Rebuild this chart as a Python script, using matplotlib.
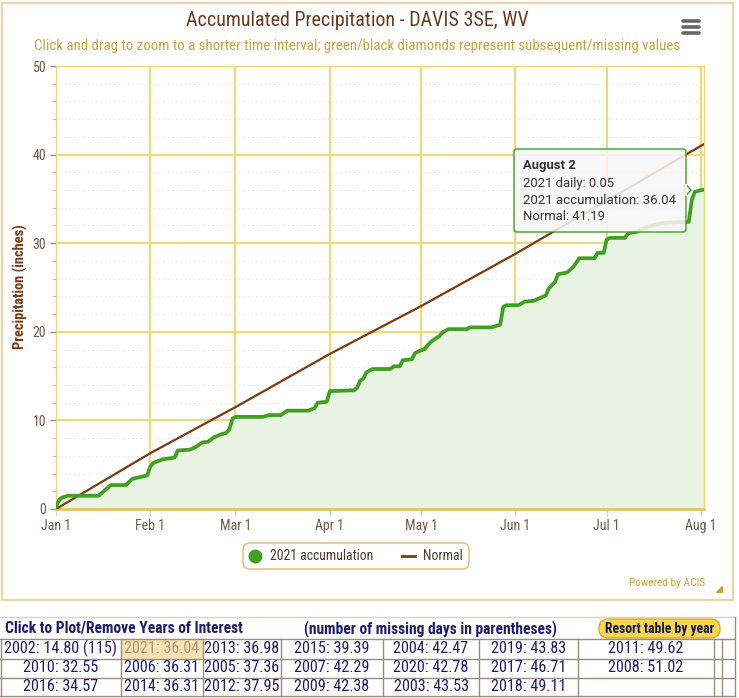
import numpy as np
import pandas as pd
import matplotlib
matplotlib.use('Agg')
import matplotlib.pyplot as plt
from matplotlib import font_manager
from matplotlib.ticker import MultipleLocator, FixedLocator
from matplotlib.patches import FancyBboxPatch, Rectangle, Polygon
from matplotlib.lines import Line2D

W, H = 739, 698

# --- data ---------------------------------------------------------------
year_start = pd.Timestamp('2021-01-01')
acc_days = [0, 1, 2, 4, 14, 16, 18, 23, 25, 29, 30, 31, 32, 35, 39, 40, 44, 46, 48, 50,
            52, 54, 56, 57, 58, 59, 68, 70, 74, 76, 83, 85, 86, 89, 90, 98, 99, 100,
            101, 102, 104, 110, 111, 113, 114, 117, 118, 120, 121, 123, 125, 126, 127,
            129, 135, 136, 143, 144, 146, 147, 148, 152, 154, 157, 159, 161, 162, 164,
            165, 168, 170, 172, 177, 178, 180, 181, 182, 187, 188, 191, 194, 196, 200,
            208, 209, 210, 212, 213]
acc_values = [0.3, 1.0, 1.3, 1.5, 1.5, 2.1, 2.7, 2.7, 3.4, 3.7, 3.8, 4.8, 5.2, 5.6, 5.8, 6.6, 6.7, 7.0, 7.5, 7.6,
              8.1, 8.4, 8.6, 9.0, 10.2, 10.4, 10.4, 10.6, 10.6, 11.1, 11.1, 11.4, 12.0, 12.1, 13.3, 13.4, 13.7, 14.5,
              14.7, 15.4, 15.8, 15.8, 16.1, 16.1, 16.8, 16.9, 17.6, 17.9, 18.0, 18.8, 19.3, 19.5, 19.9,
              20.3, 20.3, 20.5, 20.5, 20.6, 20.8, 22.8, 23.0, 23.0, 23.4, 23.5, 23.8, 24.1, 24.9, 25.6,
              26.5, 26.7, 27.3, 28.3, 28.3, 28.9, 28.9, 30.4, 30.6, 30.6, 31.1, 31.3, 31.8, 32.0, 32.3,
              32.4, 34.9, 35.8, 35.99, 36.04]
normal_days = [0, 31, 59, 90, 120, 151, 181, 212, 213]
normal_values = [0.0, 6.3, 11.5, 17.5, 22.9, 28.8, 34.8, 40.99, 41.19]

month_ticks = ['2021-01-01', '2021-02-01', '2021-03-01', '2021-04-01',
               '2021-05-01', '2021-06-01', '2021-07-01', '2021-08-01']
month_labels = ['Jan 1', 'Feb 1', 'Mar 1', 'Apr 1', 'May 1', 'Jun 1', 'Jul 1', 'Aug 1']
y_ticks = [0, 10, 20, 30, 40, 50]

tooltip_lines = ['2021 daily: 0.05', '2021 accumulation: 36.04', 'Normal: 41.19']

table_rows = [
    ['2002: 14.80 (115)', '2021: 36.04', '2013: 36.98', '2015: 39.39', '2004: 42.47', '2019: 43.83', '2011: 49.62'],
    ['2010: 32.55', '2006: 36.31', '2005: 37.36', '2007: 42.29', '2020: 42.78', '2017: 46.71', '2008: 51.02'],
    ['2016: 34.57', '2014: 36.31', '2012: 37.95', '2009: 42.38', '2003: 43.53', '2018: 49.11', ''],
]

# --- fonts --------------------------------------------------------------
names = {f.name for f in font_manager.fontManager.ttflist}
COND = next((n for n in ['Roboto Condensed', 'Liberation Sans Narrow'] if n in names), 'Roboto')
plt.rcParams['font.family'] = [COND, 'DejaVu Sans']

GREEN = '#40a020'
BROWN = '#7a3a12'
GOLD = '#c9a43a'
GRID = '#efd96e'
NAVY = '#1c1c6e'

fig = plt.figure(figsize=(W / 100, H / 100), dpi=100)
fitted = []


def fx(x):
    return x / W


def fy(y):
    return 1 - y / H


def put(x, y, s, width=None, **kw):
    t = fig.text(fx(x), fy(y), s, **kw)
    if width:
        fitted.append((t, width))
    return t


# container frame
fig.add_artist(Rectangle((fx(2), fy(600)), (733 - 2) / W, (600 - 3) / H, transform=fig.transFigure,
                         facecolor='none', edgecolor='#e6d7a4', lw=1.6))

# --- the chart ----------------------------------------------------------
ax = fig.add_axes([fx(56), fy(509), (704 - 56) / W, (509 - 66) / H])
acc_dates = year_start + pd.to_timedelta(acc_days, unit='D')
normal_dates = year_start + pd.to_timedelta(normal_days, unit='D')

ax.fill_between(acc_dates, acc_values, 0, color='#e9f5e2', lw=0, zorder=1)
ax.plot(normal_dates, normal_values, color=BROWN, lw=1.6, zorder=3)
ax.plot(acc_dates, acc_values, color=GREEN, lw=2.7, solid_joinstyle='round', zorder=4)

ax.set_xlim(year_start, year_start + pd.Timedelta(days=213))
ax.set_ylim(0, 50)
ax.xaxis.set_major_locator(FixedLocator(pd.to_datetime(month_ticks).map(matplotlib.dates.date2num)))
ax.set_xticklabels(month_labels)
ax.set_yticks(y_ticks)
ax.yaxis.set_minor_locator(MultipleLocator(2))

ax.grid(which='major', color=GRID, lw=1.4, zorder=0)
ax.grid(which='minor', axis='y', color='#dddddd', ls=(0, (1, 3)), lw=0.8)
ax.set_axisbelow(True)

for side in ['top', 'right', 'left']:
    ax.spines[side].set_color(GRID)
    ax.spines[side].set_linewidth(1.0)
ax.spines['bottom'].set_color('#e2c55a')
ax.spines['bottom'].set_linewidth(2.0)

ax.tick_params(axis='x', which='major', length=5, width=1, color='#ccd6eb',
               labelcolor='#6e5a48', labelsize=8.6, pad=2)
ax.tick_params(axis='y', which='major', length=4, width=1, color='#8a8a8a',
               labelcolor='#6e5a48', labelsize=8.6, pad=3)
ax.tick_params(axis='y', which='minor', length=3, width=0.8, color='#bbbbbb')

# legend
handles = [Line2D([], [], marker='o', markersize=9, color=GREEN, ls='none'),
           Line2D([], [], color=BROWN, lw=2)]
leg = ax.legend(handles, ['2021 accumulation', 'Normal'], ncol=2, loc='center',
                bbox_to_anchor=(fx(356), fy(556)), bbox_transform=fig.transFigure,
                frameon=True, fancybox=True, fontsize=9, handlelength=1.0,
                handletextpad=0.7, columnspacing=2.3, borderpad=0.45, labelcolor='#4a3b2c')
leg.get_frame().set_edgecolor('#d8b95e')
leg.get_frame().set_linewidth(1.2)
leg.get_frame().set_boxstyle('round', pad=0.0, rounding_size=0.5)

# titles
put(357.5, 21, 'Accumulated Precipitation - DAVIS 3SE, WV', width=341, ha='center', va='center',
    color='#6b3a1e', fontsize=13)
put(357.5, 46, 'Click and drag to zoom to a shorter time interval; green/black diamonds represent '
    'subsequent/missing values', width=645, ha='center', va='center', color=GOLD, fontsize=9.5)
put(20, 287, 'Precipitation (inches)', width=125, ha='center', va='center', rotation=90,
    color=BROWN, fontsize=9, fontweight='bold')
put(705, 583, 'Powered by ACIS', width=77, ha='right', va='center', color=GOLD, fontsize=7)

# hamburger menu
for yy in [21, 27, 33]:
    fig.add_artist(Line2D([fx(683), fx(699)], [fy(yy), fy(yy)], color='#666666', lw=2.6,
                          solid_capstyle='round'))
fig.add_artist(Polygon([(fx(722), fy(586)), (fx(722), fy(592)), (fx(716), fy(592))], closed=True,
                       transform=fig.transFigure, color=GOLD))

# tooltip
fig.add_artist(FancyBboxPatch((fx(514), fy(232)), (686 - 514) / W, (232 - 149) / H,
                              boxstyle='round,pad=0,rounding_size=0.004', transform=fig.transFigure,
                              facecolor=(0.97, 0.97, 0.97, 0.86), edgecolor=GREEN, lw=1.0, zorder=5))
fig.add_artist(Polygon([(fx(685.5), fy(184)), (fx(691), fy(190)), (fx(685.5), fy(196))], closed=True,
                       transform=fig.transFigure, facecolor=(0.97, 0.97, 0.97), edgecolor=GREEN,
                       lw=1.0, zorder=5))
fig.add_artist(Line2D([fx(685.5), fx(685.5)], [fy(184.6), fy(195.4)], color=(0.97, 0.97, 0.97),
                      lw=1.4, zorder=6))
put(523, 166, 'August 2', ha='left', va='center', color='#333333', fontsize=9.4,
    fontweight='bold', family='Roboto', zorder=7)
for i, line in enumerate(tooltip_lines):
    put(523, 184 + i * 16.5, line, width=153 if i == 1 else None, ha='left', va='center',
        color='#333333', fontsize=9.4, family='Roboto', zorder=7)

# --- the table ----------------------------------------------------------
col_edges = [0, 121, 203, 281, 383, 479, 578, 714, 722, 735]
row_edges = [639, 658.5, 677.5, 695.5]
LINE = '#9a8c7c'


def hline(y, x0, x1, color=LINE, lw=1.0):
    fig.add_artist(Line2D([fx(x0), fx(x1)], [fy(y), fy(y)], color=color, lw=lw))


def vline(x, y0, y1, color=LINE, lw=1.0):
    fig.add_artist(Line2D([fx(x), fx(x)], [fy(y0), fy(y1)], color=color, lw=lw))


fig.add_artist(Rectangle((fx(121), fy(658.5)), 82 / W, 19.5 / H, transform=fig.transFigure,
                         facecolor='#f8e2b4', edgecolor='#e6c98a', lw=0.8))
hline(617, 0, 735, color='#ddd3c3')
for y in row_edges:
    hline(y, 0, 735)
vline(735, 617, 695.5)
for x in col_edges[:-1]:
    vline(max(x, 0.5), 639, 695.5)

put(5, 628.5, 'Click to Plot/Remove Years of Interest', width=238, ha='left', va='center',
    color=NAVY, fontsize=10, fontweight='bold')
put(430, 628.5, '(number of missing days in parentheses)', width=254, ha='center', va='center',
    color=NAVY, fontsize=10, fontweight='bold')
fig.add_artist(FancyBboxPatch((fx(599), fy(638)), 121 / W, 19 / H,
                              boxstyle='round,pad=0,rounding_size=0.013', transform=fig.transFigure,
                              facecolor='#f7d84c', edgecolor='#d8a92c', lw=1.0))
put(659.5, 628.5, 'Resort table by year', width=108, ha='center', va='center',
    color='#141450', fontsize=8.5, fontweight='bold')

cells = []
for r, row in enumerate(table_rows):
    yc = (row_edges[r] + row_edges[r + 1]) / 2
    for c, label in enumerate(row):
        xc = (col_edges[c] + col_edges[c + 1]) / 2
        hl = (r == 0 and c == 1)
        t = put(xc, yc, label, ha='center', va='center', fontsize=10,
                color='#a8977a' if hl else NAVY)
        cells.append(t)

# scale texts to the widths measured on the reference
fig.canvas.draw()
rend = fig.canvas.get_renderer()
for t, w in fitted:
    bb = t.get_window_extent(rend)
    span = bb.height if t.get_rotation() == 90 else bb.width
    t.set_fontsize(t.get_fontsize() * w / span)

ref = cells[3]
bb = ref.get_window_extent(rend)
cell_size = ref.get_fontsize() * 75 / bb.width
for t in cells:
    t.set_fontsize(cell_size)

lab = ax.get_xticklabels()[0]
bb = lab.get_window_extent(rend)
ax.tick_params(axis='both', which='major', labelsize=lab.get_fontsize() * 30 / bb.width)

leg_size = 9 * 104 / leg.get_texts()[0].get_window_extent(rend).width
for t in leg.get_texts():
    t.set_fontsize(leg_size)

fig.savefig('out.png', dpi=100)
